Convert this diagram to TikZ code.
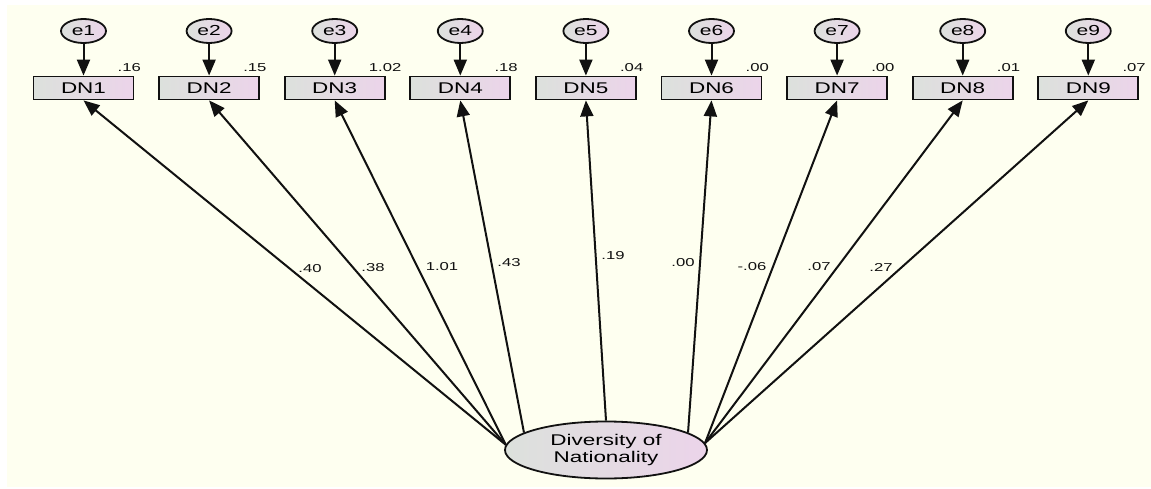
\documentclass[tikz,border=0pt]{standalone}
\usepackage{fontspec}
\setmainfont[FakeStretch=1.45]{Liberation Sans}
\usetikzlibrary{arrows.meta,shapes.geometric}
\definecolor{paper}{HTML}{FEFFF0}
\definecolor{greyside}{HTML}{DCE1DC}
\definecolor{pinkside}{HTML}{ECD4EA}
\definecolor{ink}{HTML}{111111}
\begin{document}
\begin{tikzpicture}[x=1pt,y=-1pt,
  obsbox/.style={draw=ink, line width=1.8pt, rectangle, minimum width=100pt,
    minimum height=23pt, inner sep=0pt, left color=greyside, right color=pinkside,
    font=\fontsize{15.5}{17}\selectfont},
  errnode/.style={draw=ink, line width=1.8pt, ellipse, minimum width=45pt,
    minimum height=24pt, inner sep=0pt, left color=greyside, right color=pinkside,
    font=\fontsize{14.5}{16}\selectfont},
  latnode/.style={draw=ink, line width=1.8pt, ellipse, minimum width=202pt,
    minimum height=57pt, inner sep=0pt, left color=greyside, right color=pinkside,
    align=center, font=\fontsize{15.5}{17}\selectfont},
  loading/.style={draw=ink, line width=2pt, -{Triangle[length=16pt,width=13pt]}},
  est/.style={inner sep=0pt, text=ink, font=\fontsize{11.5}{13}\selectfont}
]
% canvas
\useasboundingbox (0,0) rectangle (1151,489);
\fill[white] (0,0) rectangle (1151,489);
\fill[paper] (7,5) rectangle (1151,487);

% latent factor
\node[latnode] (lat) at (606,450) {Diversity of\\Nationality};

% indicators, their error terms and squared multiple correlations
\foreach \i/\r in {1/.16,2/.15,3/1.02,4/.18,5/.04,6/.00,7/.00,8/.01,9/.07}{
  \pgfmathsetmacro{\xx}{83.5+125.6*(\i-1)}
  \node[obsbox] (dn\i) at (\xx,88) {DN\i};
  \node[errnode] (e\i) at (\xx,31) {e\i};
  \draw[loading] (e\i) -- (dn\i);
  \node[est, anchor=south west] (r\i) at (\xx+34,72) {\r};
}

% factor loadings
\foreach \i/\a in {1/177,2/177,3/177,4/168,5/90,6/12,7/4,8/4,9/4}{
  \draw[loading] (lat.\a) -- (dn\i.south);
}

% loading estimates
\node[est] (w1) at (310,269) {.40};
\node[est] (w2) at (373,268) {.38};
\node[est] (w3) at (442,267) {1.01};
\node[est] (w4) at (509,263) {.43};
\node[est] (w5) at (613,256) {.19};
\node[est] (w6) at (683,263) {.00};
\node[est] (w7) at (752,267) {-.06};
\node[est] (w8) at (819,267) {.07};
\node[est] (w9) at (881,267) {.27};
\end{tikzpicture}
\end{document}
